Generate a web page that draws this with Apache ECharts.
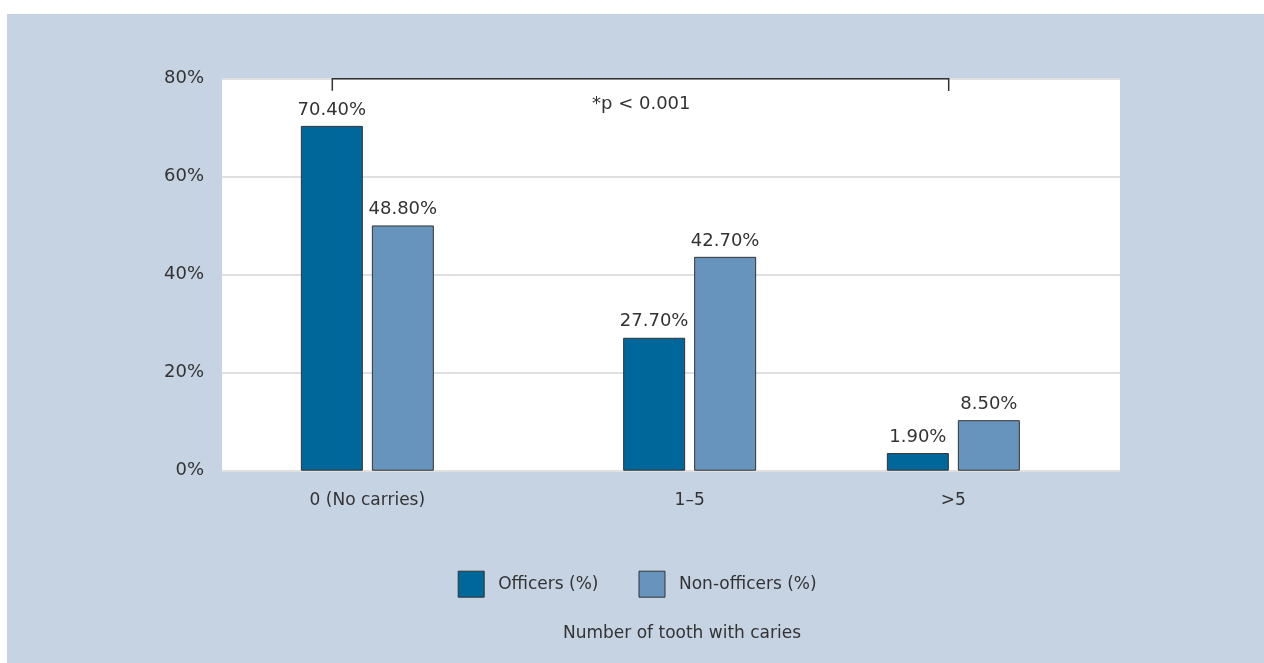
<!DOCTYPE html>
<html><head><meta charset="utf-8">
<script src="https://cdn.jsdelivr.net/npm/echarts@6/dist/echarts.min.js"></script>
<style>html,body{margin:0;padding:0;background:#fff;}#chart{position:absolute;left:7px;top:14px;width:1257px;height:649px;}</style>
</head><body><div id="chart"></div>
<script>
// ---- data ----
const categories = ['0 (No carries)', '1–5', '>5'];
const seriesNames = ['Officers (%)', 'Non-officers (%)'];
const officers = [70.3, 27.1, 3.6];
const nonOfficers = [50.0, 43.6, 10.3];
const officerLabels = ['70.40%', '27.70%', '1.90%'];
const nonOfficerLabels = ['48.80%', '42.70%', '8.50%'];
const yTicks = [0, 20, 40, 60, 80];
const axisTitle = 'Number of tooth with caries';
const note = '*p < 0.001';

// ---- layout ----
const FONT = 'DejaVu Sans';
const TXT = '#333333';
const padSlots = 3;
const slotSteps = [11, 9];
const slotIndex = [padSlots];
slotSteps.forEach(s => slotIndex.push(slotIndex[slotIndex.length - 1] + s));
const nSlots = slotIndex[slotIndex.length - 1] + 1 + padSlots;
const slots = new Array(nSlots).fill('');
const slotToCat = {};
slotIndex.forEach((s, i) => { slots[s] = categories[i]; slotToCat[s] = i; });
function spread(arr) {
  const out = new Array(nSlots).fill(null);
  slotIndex.forEach((s, i) => { out[s] = arr[i]; });
  return out;
}
const slotW = 29.3;
const firstCenter = 360.35; // chart coords

const chart = echarts.init(document.getElementById('chart'));
const gTop = 64.3, gH = 392.4;
chart.setOption({
  backgroundColor: '#c6d3e3',
  animation: false,
  textStyle: { fontFamily: FONT },
  title: {
    text: axisTitle, left: 556, top: 611, padding: 0,
    textStyle: { fontSize: 17, fontWeight: 'normal', color: TXT, fontFamily: FONT }
  },
  legend: {
    left: 450.7, top: 556.7, padding: 0, itemWidth: 26, itemHeight: 26, itemGap: 40,
    icon: 'rect',
    data: seriesNames,
    itemStyle: { borderColor: '#333', borderWidth: 1 },
    textStyle: { fontSize: 17, color: TXT, fontFamily: FONT, padding: [0, 0, 0, 9] }
  },
  grid: [
    { left: 215, top: gTop, width: 898, height: gH, show: true, backgroundColor: '#ffffff', borderWidth: 0 },
    { left: firstCenter - (padSlots + 0.5) * slotW, top: gTop, width: nSlots * slotW, height: gH }
  ],
  xAxis: [
    { type: 'category', gridIndex: 0, data: [''], show: false },
    {
      type: 'category', gridIndex: 1, data: slots,
      axisLine: { show: false }, axisTick: { show: false },
      axisLabel: { interval: 0, margin: 21, fontSize: 17, color: TXT, fontFamily: FONT, hideOverlap: false }
    }
  ],
  yAxis: [
    {
      type: 'value', gridIndex: 0, min: yTicks[0], max: yTicks[yTicks.length - 1], interval: yTicks[1] - yTicks[0],
      axisLine: { show: false }, axisTick: { show: false },
      axisLabel: { formatter: '{value}%', margin: 18, fontSize: 18, color: TXT, fontFamily: FONT },
      splitLine: { show: true, lineStyle: { color: '#e0e0e0', width: 2 } }
    },
    {
      type: 'value', gridIndex: 1, min: yTicks[0], max: yTicks[yTicks.length - 1], interval: yTicks[1] - yTicks[0],
      show: false, splitLine: { show: false }
    }
  ],
  series: [
    {
      name: seriesNames[0], type: 'bar', xAxisIndex: 1, yAxisIndex: 1, clip: false,
      data: spread(officers), barWidth: 62, barGap: '14.5%',
      itemStyle: { color: '#00679a', borderColor: '#333', borderWidth: 1 },
      label: {
        show: true, position: 'top', distance: 7, fontSize: 18, color: TXT, fontFamily: FONT,
        formatter: p => officerLabels[slotToCat[p.dataIndex]]
      }
    },
    {
      name: seriesNames[1], type: 'bar', xAxisIndex: 1, yAxisIndex: 1, clip: false,
      data: spread(nonOfficers), barWidth: 62, barGap: '14.5%',
      itemStyle: { color: '#6794bc', borderColor: '#333', borderWidth: 1 },
      label: {
        show: true, position: 'top', distance: 7, fontSize: 18, color: TXT, fontFamily: FONT,
        formatter: p => nonOfficerLabels[slotToCat[p.dataIndex]]
      }
    }
  ],
  graphic: [
    {
      type: 'polyline', z: 100,
      shape: { points: [[325.3, 76.7], [325.3, 64.7], [941.7, 64.7], [941.7, 77]] },
      style: { stroke: '#333', lineWidth: 1.5, fill: null }
    },
    {
      type: 'text', z: 100, left: 585, top: 81,
      style: { text: note, fontSize: 18, fill: TXT, fontFamily: FONT }
    }
  ]
});
</script></body></html>
